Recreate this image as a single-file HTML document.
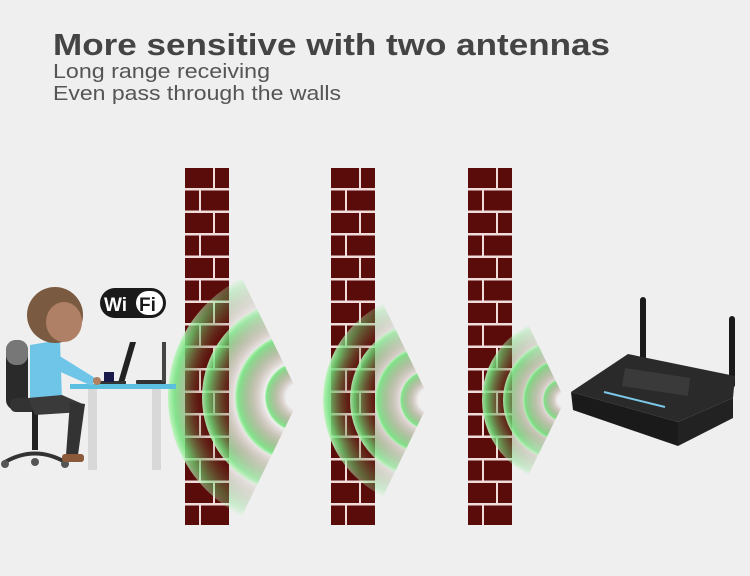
<!DOCTYPE html>
<html><head><meta charset="utf-8"><style>
body{margin:0;background:#efefef;}
svg{display:block}
</style></head><body>
<svg width="750" height="576" viewBox="0 0 750 576" xmlns="http://www.w3.org/2000/svg">
<defs>
<pattern id="br1" patternUnits="userSpaceOnUse" x="185" y="168" width="44" height="45">
<rect width="44" height="45" fill="#f1dcdc"/>
<rect x="0" y="0" width="28" height="20" fill="#5a0c0a"/><rect x="30" y="0" width="14" height="20" fill="#5a0c0a"/>
<rect x="0" y="22.5" width="14" height="20" fill="#5a0c0a"/><rect x="16" y="22.5" width="28" height="20" fill="#5a0c0a"/>
</pattern>
<pattern id="br2" href="#br1" x="331"/>
<pattern id="br3" href="#br1" x="468"/>
<radialGradient id="g1a" gradientUnits="userSpaceOnUse" cx="300" cy="397" r="132"><stop offset="0.72" stop-color="#7a2a20" stop-opacity="0"/><stop offset="0.95" stop-color="#6fe07a" stop-opacity="0.85"/><stop offset="1" stop-color="#b8f5b8" stop-opacity="0.9"/></radialGradient>
<radialGradient id="g1b" gradientUnits="userSpaceOnUse" cx="300" cy="397" r="98"><stop offset="0.65" stop-color="#7a2a20" stop-opacity="0"/><stop offset="0.95" stop-color="#6fe07a" stop-opacity="0.85"/><stop offset="1" stop-color="#b8f5b8" stop-opacity="0.9"/></radialGradient>
<radialGradient id="g1c" gradientUnits="userSpaceOnUse" cx="300" cy="397" r="65"><stop offset="0.55" stop-color="#7a2a20" stop-opacity="0"/><stop offset="0.95" stop-color="#6fe07a" stop-opacity="0.85"/><stop offset="1" stop-color="#b8f5b8" stop-opacity="0.9"/></radialGradient>
<radialGradient id="g1d" gradientUnits="userSpaceOnUse" cx="300" cy="397" r="35"><stop offset="0.4" stop-color="#7a2a20" stop-opacity="0"/><stop offset="0.95" stop-color="#6fe07a" stop-opacity="0.85"/><stop offset="1" stop-color="#b8f5b8" stop-opacity="0.9"/></radialGradient>
<radialGradient id="g2a" gradientUnits="userSpaceOnUse" cx="430" cy="400" r="107"><stop offset="0.7" stop-color="#7a2a20" stop-opacity="0"/><stop offset="0.95" stop-color="#6fe07a" stop-opacity="0.85"/><stop offset="1" stop-color="#b8f5b8" stop-opacity="0.9"/></radialGradient>
<radialGradient id="g2b" gradientUnits="userSpaceOnUse" cx="430" cy="400" r="80"><stop offset="0.62" stop-color="#7a2a20" stop-opacity="0"/><stop offset="0.95" stop-color="#6fe07a" stop-opacity="0.85"/><stop offset="1" stop-color="#b8f5b8" stop-opacity="0.9"/></radialGradient>
<radialGradient id="g2c" gradientUnits="userSpaceOnUse" cx="430" cy="400" r="55"><stop offset="0.5" stop-color="#7a2a20" stop-opacity="0"/><stop offset="0.95" stop-color="#6fe07a" stop-opacity="0.85"/><stop offset="1" stop-color="#b8f5b8" stop-opacity="0.9"/></radialGradient>
<radialGradient id="g2d" gradientUnits="userSpaceOnUse" cx="430" cy="400" r="30"><stop offset="0.4" stop-color="#7a2a20" stop-opacity="0"/><stop offset="0.95" stop-color="#6fe07a" stop-opacity="0.85"/><stop offset="1" stop-color="#b8f5b8" stop-opacity="0.9"/></radialGradient>
<radialGradient id="g3a" gradientUnits="userSpaceOnUse" cx="565" cy="400" r="83"><stop offset="0.65" stop-color="#7a2a20" stop-opacity="0"/><stop offset="0.95" stop-color="#6fe07a" stop-opacity="0.85"/><stop offset="1" stop-color="#b8f5b8" stop-opacity="0.9"/></radialGradient>
<radialGradient id="g3b" gradientUnits="userSpaceOnUse" cx="565" cy="400" r="62"><stop offset="0.55" stop-color="#7a2a20" stop-opacity="0"/><stop offset="0.95" stop-color="#6fe07a" stop-opacity="0.85"/><stop offset="1" stop-color="#b8f5b8" stop-opacity="0.9"/></radialGradient>
<radialGradient id="g3c" gradientUnits="userSpaceOnUse" cx="565" cy="400" r="42"><stop offset="0.45" stop-color="#7a2a20" stop-opacity="0"/><stop offset="0.95" stop-color="#6fe07a" stop-opacity="0.85"/><stop offset="1" stop-color="#b8f5b8" stop-opacity="0.9"/></radialGradient>
<radialGradient id="g3d" gradientUnits="userSpaceOnUse" cx="565" cy="400" r="22"><stop offset="0.35" stop-color="#7a2a20" stop-opacity="0"/><stop offset="0.95" stop-color="#6fe07a" stop-opacity="0.85"/><stop offset="1" stop-color="#b8f5b8" stop-opacity="0.9"/></radialGradient>
<linearGradient id="fadeV" x1="0" y1="0" x2="0" y2="1"><stop offset="0" stop-color="#fff" stop-opacity="0"/><stop offset="0.3" stop-color="#fff"/><stop offset="0.7" stop-color="#fff"/><stop offset="1" stop-color="#fff" stop-opacity="0"/></linearGradient>
<mask id="m1" maskUnits="userSpaceOnUse" x="0" y="0" width="750" height="576"><rect x="160" y="262" width="140" height="270" fill="url(#fadeV)"/></mask>
<mask id="m2" maskUnits="userSpaceOnUse" x="0" y="0" width="750" height="576"><rect x="315" y="290" width="120" height="220" fill="url(#fadeV)"/></mask>
<mask id="m3" maskUnits="userSpaceOnUse" x="0" y="0" width="750" height="576"><rect x="475" y="315" width="95" height="170" fill="url(#fadeV)"/></mask>
<clipPath id="w1"><polygon points="300,397 100,-12 100,806"/></clipPath>
<clipPath id="w2"><polygon points="430,400 230,-9 230,809"/></clipPath>
<clipPath id="w3"><polygon points="565,400 365,-9 365,809"/></clipPath>
</defs>

<text x="53" y="55" font-family="Liberation Sans, sans-serif" font-weight="bold" font-size="31" fill="#444" textLength="557" lengthAdjust="spacingAndGlyphs">More sensitive with two antennas</text>
<text x="53" y="78" font-family="Liberation Sans, sans-serif" font-size="20.5" fill="#555" textLength="217" lengthAdjust="spacingAndGlyphs">Long range receiving</text>
<text x="53" y="100" font-family="Liberation Sans, sans-serif" font-size="20.5" fill="#555" textLength="288" lengthAdjust="spacingAndGlyphs">Even pass through the walls</text>

<rect x="185" y="168" width="44" height="357" fill="url(#br1)"/>
<rect x="331" y="168" width="44" height="357" fill="url(#br2)"/>
<rect x="468" y="168" width="44" height="357" fill="url(#br3)"/>

<g clip-path="url(#w1)"><g mask="url(#m1)">
<circle cx="300" cy="397" r="132" fill="url(#g1a)"/><circle cx="300" cy="397" r="98" fill="url(#g1b)"/>
<circle cx="300" cy="397" r="65" fill="url(#g1c)"/><circle cx="300" cy="397" r="35" fill="url(#g1d)"/>
</g></g>
<g clip-path="url(#w2)"><g mask="url(#m2)">
<circle cx="430" cy="400" r="107" fill="url(#g2a)"/><circle cx="430" cy="400" r="80" fill="url(#g2b)"/>
<circle cx="430" cy="400" r="55" fill="url(#g2c)"/><circle cx="430" cy="400" r="30" fill="url(#g2d)"/>
</g></g>
<g clip-path="url(#w3)"><g mask="url(#m3)">
<circle cx="565" cy="400" r="83" fill="url(#g3a)"/><circle cx="565" cy="400" r="62" fill="url(#g3b)"/>
<circle cx="565" cy="400" r="42" fill="url(#g3c)"/><circle cx="565" cy="400" r="22" fill="url(#g3d)"/>
</g></g>

<!-- WiFi logo -->
<rect x="100" y="288" width="66" height="30" rx="15" fill="#1a1a1a"/>
<rect x="136" y="291" width="27" height="24" rx="12" fill="#fff"/>
<text x="104" y="311" font-family="Liberation Sans, sans-serif" font-weight="bold" font-size="19" fill="#fff">Wi</text>
<text x="139" y="311" font-family="Liberation Sans, sans-serif" font-weight="bold" font-size="19" fill="#1a1a1a">Fi</text>

<!-- desk -->
<rect x="88" y="388" width="9" height="82" fill="#d8d8d8"/>
<rect x="152" y="388" width="9" height="82" fill="#d8d8d8"/>
<rect x="70" y="384" width="106" height="5" fill="#5bbfe0"/>
<polygon points="118,383 130,342 136,342 124,383" fill="#222"/>
<rect x="100" y="381" width="26" height="3" fill="#333"/>
<rect x="136" y="380" width="30" height="4" rx="1" fill="#333"/>
<rect x="162" y="342" width="4" height="40" fill="#444"/>
<rect x="104" y="372" width="10" height="10" fill="#1a1a4a"/>
<!-- chair -->
<rect x="6" y="340" width="22" height="70" rx="10" fill="#2a2a2a"/>
<rect x="6" y="340" width="22" height="25" rx="10" fill="#777"/>
<rect x="10" y="398" width="50" height="14" rx="6" fill="#333"/>
<rect x="32" y="410" width="6" height="40" fill="#222"/>
<path d="M5 462 Q35 445 65 462" stroke="#333" stroke-width="4" fill="none"/>
<circle cx="5" cy="464" r="4" fill="#555"/><circle cx="65" cy="464" r="4" fill="#555"/><circle cx="35" cy="462" r="4" fill="#555"/>
<!-- person -->
<path d="M30 345 L60 340 L62 400 L30 402 Z" fill="#6ec5e8"/>
<path d="M50 350 L95 378 L92 386 L45 365 Z" fill="#6ec5e8"/>
<circle cx="97" cy="381" r="4" fill="#b08060"/>
<path d="M28 398 L62 395 L85 405 L82 412 L35 415 Z" fill="#3a3a3a"/>
<path d="M70 402 L85 404 L78 455 L66 455 Z" fill="#333"/>
<rect x="62" y="454" width="22" height="8" rx="3" fill="#8a5a3a"/>
<circle cx="55" cy="315" r="28" fill="#7a5a40"/>
<ellipse cx="64" cy="322" rx="18" ry="20" fill="#b08066"/>

<!-- router -->
<rect x="640" y="297" width="6" height="68" rx="3" fill="#1a1a1a"/>
<rect x="729" y="316" width="6" height="72" rx="3" fill="#1a1a1a"/>
<polygon points="571,392 628,354 735,376 733,398 678,422" fill="#2a2a2a"/>
<polygon points="571,392 678,422 678,446 573,410" fill="#1a1a1a"/>
<polygon points="678,422 733,398 733,418 678,446" fill="#222"/>
<polygon points="625,368 690,378 688,396 622,386" fill="#3a3a3a"/>
<line x1="604" y1="392" x2="665" y2="407" stroke="#7cc8e8" stroke-width="2"/>
</svg>
</body></html>
